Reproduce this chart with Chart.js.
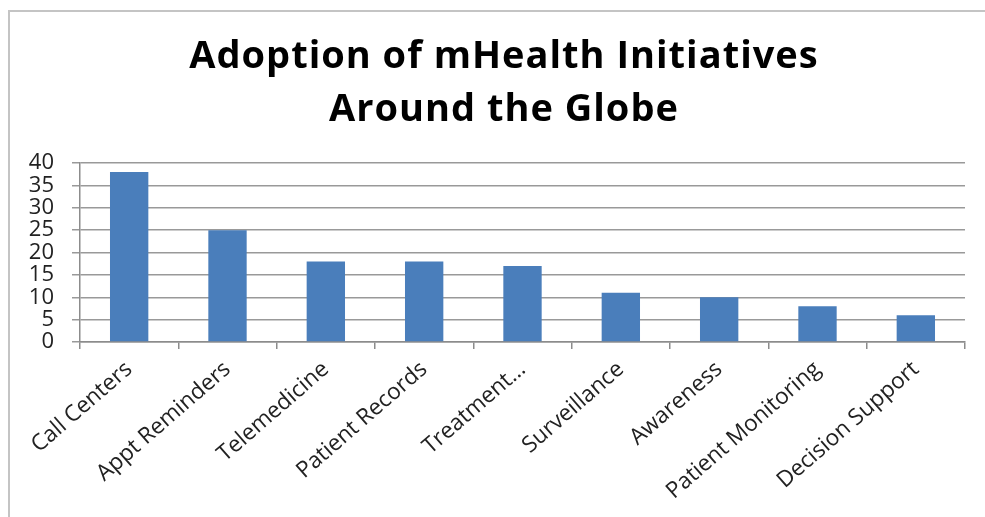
<!DOCTYPE html>
<html lang="en">
<head>
    <meta charset="UTF-8">
    <title>Adoption of mHealth Initiatives</title>
    <style>
        body {
            margin: 0;
            padding: 0;
            background: #fff;
            overflow: hidden;
        }

        .frame {
            position: absolute;
            left: 8px;
            top: 10px;
            width: 1000px;
            height: 600px;
            border: 2px solid #c4c4c4;
        }

        .chart-box {
            position: absolute;
            left: 0;
            top: 0;
            width: 985px;
            height: 517px;
        }
    </style>
</head>
<body>
    <div class="frame"></div>
    <div class="chart-box">
        <canvas id="mhealthChart"></canvas>
    </div>

<script src="https://cdn.jsdelivr.net/npm/chart.js"></script>
<script>
    // chart data
    const categories = ['Call Centers', 'Appt Reminders', 'Telemedicine', 'Patient Records', 'Treatment…',
        'Surveillance', 'Awareness', 'Patient Monitoring', 'Decision Support'];
    const initiatives = [38, 25, 18, 18, 17, 11, 10, 8, 6];
    const yTicks = [0, 5, 10, 15, 20, 25, 30, 35, 40];

    const titleLines = ['Adoption of mHealth Initiatives', 'Around the Globe'];

    // title drawn by hand so it can sit a bit right of the canvas centre, like the original
    const titlePlugin = {
        id: 'bigTitle',
        afterDraw(chart) {
            const c = chart.ctx;
            c.save();
            c.font = 'bold 38px "Open Sans"';
            c.letterSpacing = '1px';
            c.fillStyle = '#000';
            c.textAlign = 'center';
            c.textBaseline = 'alphabetic';
            c.fillText(titleLines[0], 504, 68);
            c.fillText(titleLines[1], 504, 121);
            c.restore();
        }
    };

    var ctx = document.getElementById('mhealthChart').getContext('2d');
    var chart = new Chart(ctx, {
        type: 'bar',
        data: {
            labels: categories,
            datasets: [{
                label: 'Initiatives',
                data: initiatives,
                backgroundColor: '#4a7ebb',
                barPercentage: 0.39,
                categoryPercentage: 1
            }]
        },
        options: {
            responsive: true,
            maintainAspectRatio: false,
            animation: false,
            layout: {
                padding: { left: 0, right: 20, top: 163, bottom: 0 }
            },
            plugins: {
                legend: { display: false },
                tooltip: { enabled: false },
                title: { display: false }
            },
            scales: {
                x: {
                    grid: {
                        drawOnChartArea: false,
                        drawTicks: true,
                        tickLength: 7,
                        color: '#8c8c8c',
                        lineWidth: 1.5
                    },
                    border: { color: '#8c8c8c', width: 1.5 },
                    ticks: {
                        color: '#222',
                        font: { family: 'Open Sans', size: 22.5 },
                        minRotation: 41,
                        maxRotation: 41,
                        autoSkip: false,
                        padding: 7
                    },
                    afterFit: function (scale) {
                        scale.height = 175;
                    }
                },
                y: {
                    min: 0,
                    max: 40,
                    afterBuildTicks: function (scale) {
                        scale.ticks = yTicks.map(v => ({ value: v }));
                    },
                    grid: {
                        color: '#999',
                        lineWidth: 1.5,
                        drawTicks: true,
                        tickLength: 8
                    },
                    border: { color: '#8c8c8c', width: 1.5 },
                    ticks: {
                        color: '#222',
                        font: { family: 'Open Sans', size: 22 },
                        autoSkip: false,
                        padding: 18
                    },
                    afterFit: function (scale) {
                        scale.width = 80;
                    }
                }
            }
        },
        plugins: [titlePlugin]
    });
</script>
</body>
</html>
